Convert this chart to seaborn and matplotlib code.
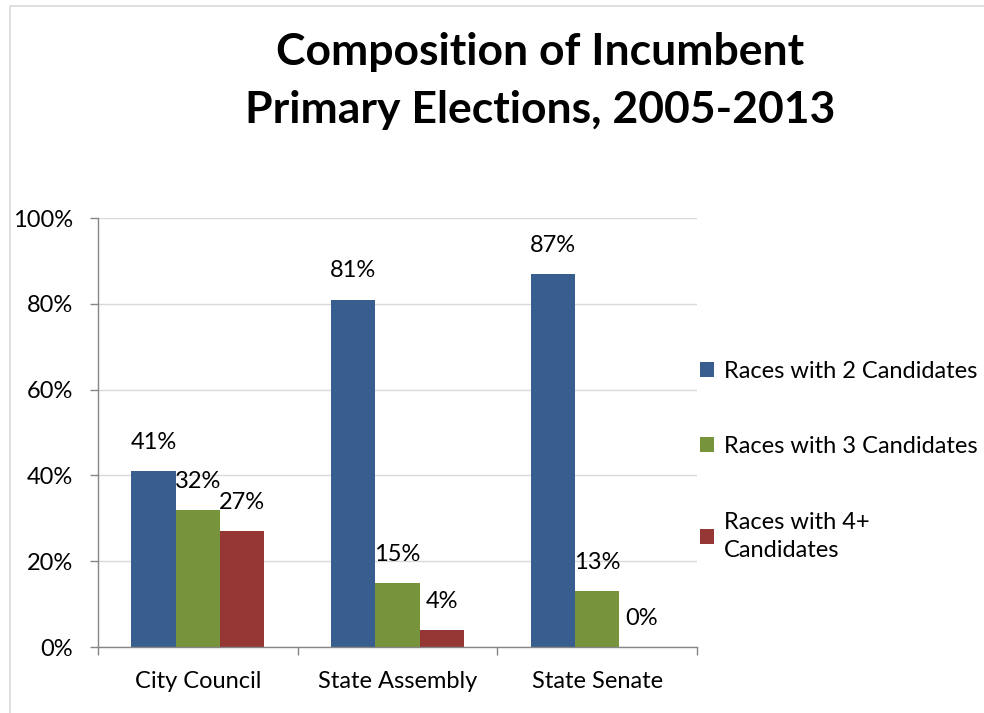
import matplotlib
matplotlib.use("Agg")
import matplotlib.pyplot as plt
from matplotlib.patches import Rectangle
from matplotlib.ticker import FixedLocator, PercentFormatter
import seaborn as sns
import pandas as pd

# Share of incumbent primary races by number of candidates
offices = ["City Council", "State Assembly", "State Senate"]
series = ["Races with 2 Candidates", "Races with 3 Candidates", "Races with 4+\nCandidates"]
two_candidates = [41, 81, 87]
three_candidates = [32, 15, 13]
four_plus_candidates = [27, 4, 0]
colors = ["#385E8F", "#77933C", "#953735"]
yticks = [0, 20, 40, 60, 80, 100]

rows = []
for name, vals in zip(series, [two_candidates, three_candidates, four_plus_candidates]):
    for office, v in zip(offices, vals):
        rows.append({"office": office, "series": name, "share": v})
df = pd.DataFrame(rows)

sns.set_theme(style="white")
plt.rcParams["font.family"] = ["Lato", "DejaVu Sans"]
plt.rcParams["text.color"] = "black"
plt.rcParams["xtick.color"] = "black"
plt.rcParams["ytick.color"] = "black"

fig = plt.figure(figsize=(9.84, 7.13), dpi=100)
ax = fig.add_axes([98 / 984, 66 / 713, 599 / 984, 429 / 713])

sns.barplot(data=df, x="office", y="share", hue="series", order=offices,
            hue_order=series, palette=colors, width=0.667, saturation=1,
            edgecolor="none", linewidth=0, ax=ax)

ax.set_ylim(0, 100)
ax.set_xlim(-0.5, 2.5)
ax.yaxis.set_major_locator(FixedLocator(yticks))
ax.yaxis.set_major_formatter(PercentFormatter(decimals=0))
ax.grid(axis="y", color="#D9D9D9", linewidth=1.0)
ax.set_axisbelow(True)
ax.set_xlabel("")
ax.set_ylabel("")

for side in ["top", "right"]:
    ax.spines[side].set_visible(False)
for side in ["left", "bottom"]:
    ax.spines[side].set_color("#868686")
    ax.spines[side].set_linewidth(1.0)

ax.tick_params(axis="y", which="major", direction="out", length=6, width=1,
               color="#868686", labelcolor="black", labelsize=17, pad=12, left=True)
ax.tick_params(axis="x", which="major", length=0, labelcolor="black", labelsize=17, pad=17)
ax.xaxis.set_minor_locator(FixedLocator([-0.5, 0.5, 1.5, 2.5]))
ax.tick_params(axis="x", which="minor", direction="out", length=6, width=1,
               color="#868686", bottom=True)

for container in ax.containers:
    ax.bar_label(container, fmt="%.0f%%", padding=13, fontsize=17, color="black")

handles, labels = ax.get_legend_handles_labels()
leg = ax.legend(handles, labels, loc="upper left", bbox_to_anchor=(700 / 984, 1 - 361 / 713),
                bbox_transform=fig.transFigure, frameon=False, fontsize=17,
                handlelength=0.6, handleheight=0.6, handletextpad=0.4,
                labelspacing=2.3, borderaxespad=0, borderpad=0, labelcolor="black")
for t in leg.get_texts():
    t.set_linespacing(1.45)

fig.text(540 / 984, 1 - 52 / 713, "Composition of Incumbent", ha="center", va="center",
         fontsize=32, fontweight="bold", color="black")
fig.text(540 / 984, 1 - 110 / 713, "Primary Elections, 2005-2013", ha="center", va="center",
         fontsize=32, fontweight="bold", color="black")

# chart area frame
fig.patches.append(Rectangle((10 / 984, -0.01), 1.0, 1 - 6 / 713 + 0.01,
                             transform=fig.transFigure, fill=False,
                             edgecolor="#D9D9D9", linewidth=1.2))

fig.savefig("out.png", dpi=100)
